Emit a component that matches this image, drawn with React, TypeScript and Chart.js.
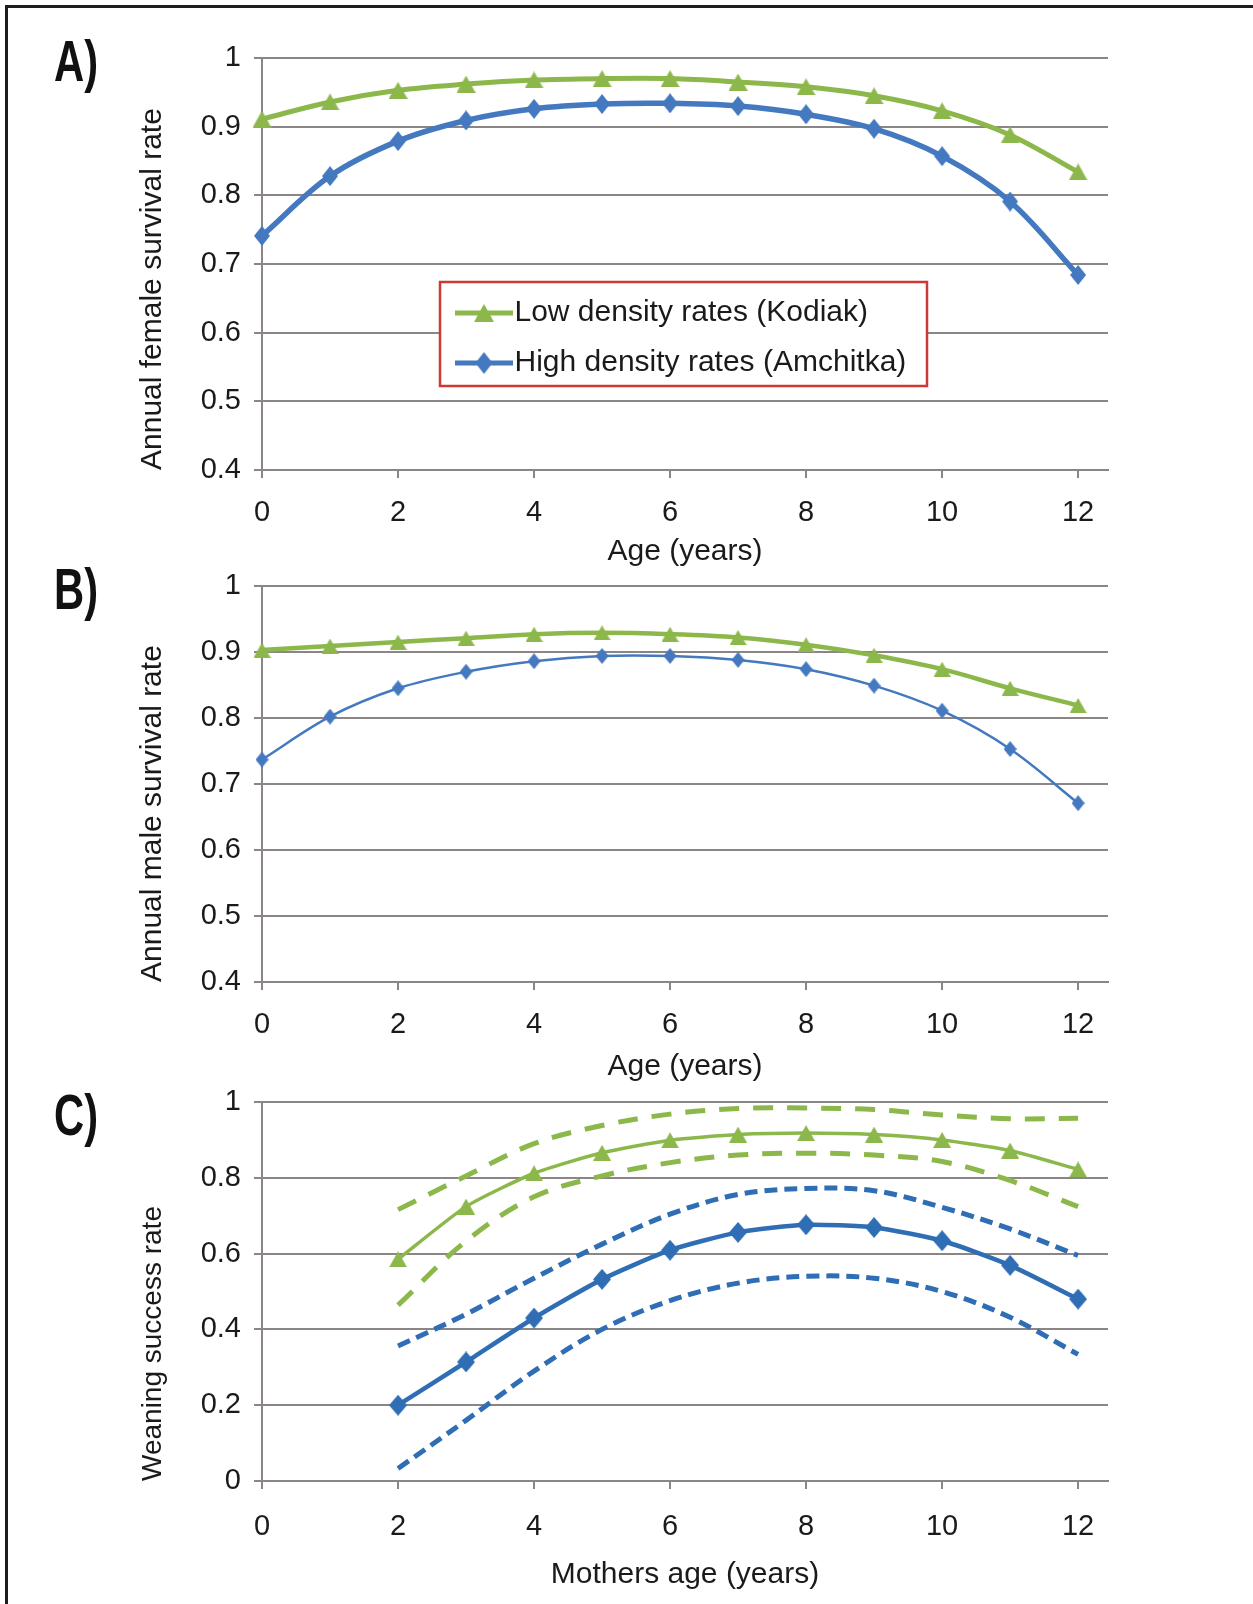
import React, { useEffect, useRef } from 'react';
import { Chart, registerables } from 'chart.js';

Chart.register(...registerables);

// ---------------- Data ----------------
const ages = [0, 1, 2, 3, 4, 5, 6, 7, 8, 9, 10, 11, 12];

// Panel A – annual female survival rate
const femaleLowDensity = [0.911, 0.936, 0.953, 0.962, 0.968, 0.970, 0.970, 0.965, 0.958, 0.945, 0.923, 0.888, 0.834];
const femaleHighDensity = [0.741, 0.828, 0.879, 0.909, 0.926, 0.933, 0.934, 0.930, 0.918, 0.897, 0.857, 0.791, 0.684];

// Panel B – annual male survival rate
const maleLowDensity = [0.903, 0.909, 0.915, 0.921, 0.927, 0.929, 0.927, 0.922, 0.911, 0.895, 0.874, 0.845, 0.819];
const maleHighDensity = [0.737, 0.802, 0.845, 0.870, 0.886, 0.894, 0.894, 0.888, 0.874, 0.849, 0.811, 0.753, 0.671];

// Panel C – weaning success rate by mother's age
const motherAges = [2, 3, 4, 5, 6, 7, 8, 9, 10, 11, 12];
const weanLowDensity = [0.585, 0.724, 0.812, 0.866, 0.899, 0.914, 0.918, 0.914, 0.900, 0.872, 0.822];
const weanLowUpper = [0.716, 0.805, 0.890, 0.938, 0.968, 0.983, 0.984, 0.980, 0.966, 0.956, 0.957];
const weanLowLower = [0.464, 0.633, 0.750, 0.805, 0.840, 0.860, 0.865, 0.860, 0.843, 0.793, 0.724];
const weanHighDensity = [0.200, 0.314, 0.430, 0.532, 0.609, 0.656, 0.676, 0.669, 0.634, 0.569, 0.480];
const weanHighUpper = [0.356, 0.440, 0.535, 0.625, 0.704, 0.756, 0.772, 0.766, 0.722, 0.665, 0.595];
const weanHighLower = [0.033, 0.160, 0.290, 0.400, 0.476, 0.522, 0.540, 0.535, 0.500, 0.432, 0.334];

// Tick labels
const xTickValues = [0, 2, 4, 6, 8, 10, 12];
const survivalTicks = [0.4, 0.5, 0.6, 0.7, 0.8, 0.9, 1];
const weaningTicks = [0, 0.2, 0.4, 0.6, 0.8, 1];

const legendLabels = ['Low density rates (Kodiak)', 'High density rates (Amchitka)'];

// ---------------- Styling ----------------
const GREEN = '#8cb84b';
const BLUE = '#4479c0';
const BLUE_C = '#2f6db5';
const GRID = '#8b8585';
const TEXT = '#1a1a1a';
const FONT = "'Liberation Sans', Arial, Helvetica, sans-serif";
const X_MAX = 12.44;
const PLOT_LEFT = 262;
const PLOT_RIGHT = 1108;
const W = 1253;

function markerCanvas(color: string, shape: string, w: number, h: number): HTMLCanvasElement {
  const c = document.createElement('canvas');
  c.width = w;
  c.height = h;
  const g = c.getContext('2d')!;
  g.fillStyle = color;
  g.beginPath();
  if (shape === 'triangle') {
    g.moveTo(w / 2, 0);
    g.lineTo(w, h);
    g.lineTo(0, h);
  } else {
    g.moveTo(w / 2, 0);
    g.lineTo(w, h / 2);
    g.lineTo(w / 2, h);
    g.lineTo(0, h / 2);
  }
  g.closePath();
  g.fill();
  return c;
}

function pts(xs: number[], ys: number[]) {
  return xs.map((x, i) => ({ x, y: ys[i] }));
}

function solid(label: string, xs: number[], ys: number[], color: string, width: number, marker: any, tension = 0.35) {
  return {
    label,
    data: pts(xs, ys),
    borderColor: color,
    backgroundColor: color,
    borderWidth: width,
    pointStyle: marker,
    pointRadius: 8,
    pointHoverRadius: 8,
    pointBackgroundColor: color,
    pointBorderColor: color,
    pointBorderWidth: 0,
    tension,
    clip: false,
    fill: false,
  };
}

function dashed(label: string, xs: number[], ys: number[], color: string, width: number, dash: number[]) {
  return {
    label,
    data: pts(xs, ys),
    borderColor: color,
    backgroundColor: color,
    borderWidth: width,
    borderDash: dash,
    borderCapStyle: 'butt',
    pointRadius: 0,
    pointHoverRadius: 0,
    tension: 0.35,
    clip: false,
    fill: false,
  };
}

type PanelSpec = {
  key: string;
  top: number;
  height: number;
  areaTop: number;
  areaBottom: number;
  yMin: number;
  yMax: number;
  yTicks: number[];
  yTitle: string;
  yTitleSize: number;
  xTitle: string;
  xTickPad: number;
  legend: boolean;
  datasets: () => any[];
};

const panels: PanelSpec[] = [
  {
    key: 'A',
    top: 0,
    height: 574,
    areaTop: 58,
    areaBottom: 470,
    yMin: 0.4,
    yMax: 1,
    yTicks: survivalTicks,
    yTitle: 'Annual female survival rate',
    yTitleSize: 30,
    xTitle: 'Age (years)',
    xTickPad: 18,
    legend: true,
    datasets: () => [
      solid(legendLabels[0], ages, femaleLowDensity, GREEN, 5, markerCanvas(GREEN, 'triangle', 19, 17)),
      solid(legendLabels[1], ages, femaleHighDensity, BLUE, 5.5, markerCanvas(BLUE, 'diamond', 16, 20)),
    ],
  },
  {
    key: 'B',
    top: 540,
    height: 549,
    areaTop: 46,
    areaBottom: 442,
    yMin: 0.4,
    yMax: 1,
    yTicks: survivalTicks,
    yTitle: 'Annual male survival rate',
    yTitleSize: 30,
    xTitle: 'Age (years)',
    xTickPad: 18,
    legend: false,
    datasets: () => [
      solid(legendLabels[0], ages, maleLowDensity, GREEN, 4.5, markerCanvas(GREEN, 'triangle', 17, 15)),
      solid(legendLabels[1], ages, maleHighDensity, BLUE, 2.5, markerCanvas(BLUE, 'diamond', 13, 16)),
    ],
  },
  {
    key: 'C',
    top: 1060,
    height: 537,
    areaTop: 42,
    areaBottom: 421,
    yMin: 0,
    yMax: 1,
    yTicks: weaningTicks,
    yTitle: 'Weaning success rate',
    yTitleSize: 28,
    xTitle: 'Mothers age (years)',
    xTickPad: 21,
    legend: false,
    datasets: () => [
      dashed('Low density upper', motherAges, weanLowUpper, GREEN, 5, [20, 14]),
      dashed('Low density lower', motherAges, weanLowLower, GREEN, 5, [20, 14]),
      dashed('High density upper', motherAges, weanHighUpper, BLUE_C, 5, [13, 7]),
      dashed('High density lower', motherAges, weanHighLower, BLUE_C, 5, [13, 7]),
      solid('Low density rates (Kodiak)', motherAges, weanLowDensity, GREEN, 3.5, markerCanvas(GREEN, 'triangle', 18, 16), 0.2),
      solid('High density rates (Amchitka)', motherAges, weanHighDensity, BLUE_C, 4.5, markerCanvas(BLUE_C, 'diamond', 18, 21), 0.2),
    ],
  },
];

function makeSymbol(color: string, shape: string): HTMLCanvasElement {
  const c = document.createElement('canvas');
  c.width = 58;
  c.height = 24;
  const g = c.getContext('2d')!;
  g.strokeStyle = color;
  g.lineWidth = 5;
  g.beginPath();
  g.moveTo(0, 12);
  g.lineTo(58, 12);
  g.stroke();
  const m = shape === 'triangle' ? markerCanvas(color, 'triangle', 20, 18) : markerCanvas(color, 'diamond', 17, 22);
  g.drawImage(m, 29 - m.width / 2, 12 - m.height / 2);
  return c;
}

const LEGEND_BOX = { x: 440, y: 282, w: 487, h: 104 };

const legendBoxPlugin = {
  id: 'legendBoxPlugin',
  afterLayout(chart: any) {
    const lg = chart.legend;
    if (!lg) return;
    if (!lg.columnSizes || !lg.columnSizes.length) {
      lg.update(600, 300, { left: 0, top: 0, right: 0, bottom: 0 });
    }
    lg.left = 448.5;
    lg.top = 278;
    lg.right = 960;
    lg.bottom = 560;
    lg.width = lg.right - lg.left;
    lg.height = lg.bottom - lg.top;
  },
  afterDraw(chart: any) {
    const lg = chart.legend;
    if (!lg) return;
    const ctx = chart.ctx;
    ctx.save();
    ctx.fillStyle = '#ffffff';
    ctx.fillRect(LEGEND_BOX.x, LEGEND_BOX.y, LEGEND_BOX.w, LEGEND_BOX.h);
    ctx.strokeStyle = '#cc3a33';
    ctx.lineWidth = 2.5;
    ctx.strokeRect(LEGEND_BOX.x, LEGEND_BOX.y, LEGEND_BOX.w, LEGEND_BOX.h);
    ctx.restore();
    lg.draw();
  },
};

function fmt(v: any) {
  const n = Number(v);
  return String(Math.round(n * 10) / 10);
}

function buildConfig(spec: PanelSpec): any {
  const symbols = [makeSymbol(GREEN, 'triangle'), makeSymbol(BLUE, 'diamond')];
  return {
    type: 'line',
    data: { datasets: spec.datasets() },
    options: {
      animation: false,
      responsive: false,
      maintainAspectRatio: false,
      events: [],
      layout: { padding: { left: 0, right: W - PLOT_RIGHT, top: spec.areaTop, bottom: 0 } },
      plugins: {
        tooltip: { enabled: false },
        title: { display: false },
        legend: spec.legend
          ? {
              display: true,
              position: 'chartArea',
              align: 'start',
              labels: {
                usePointStyle: true,
                pointStyleWidth: 31,
                padding: 20,
                color: TEXT,
                font: { size: 30, family: FONT },
                generateLabels: (chart: any) => {
                  const base = (Chart.defaults as any).plugins.legend.labels.generateLabels(chart);
                  return base.map((item: any, i: number) => ({ ...item, pointStyle: symbols[i], lineWidth: 0 }));
                },
              },
            }
          : { display: false },
      },
      scales: {
        x: {
          type: 'linear',
          min: 0,
          max: X_MAX,
          afterBuildTicks: (s: any) => {
            s.ticks = xTickValues.map((v) => ({ value: v }));
          },
          afterFit: (s: any) => {
            s.height = spec.height - spec.areaBottom;
          },
          grid: { drawOnChartArea: false, drawTicks: true, tickLength: 8, color: GRID, lineWidth: 2 },
          border: { display: true, color: GRID, width: 2 },
          ticks: {
            autoSkip: false,
            maxRotation: 0,
            minRotation: 0,
            padding: spec.xTickPad,
            color: TEXT,
            font: { size: 29, family: FONT },
            callback: (v: any) => fmt(v),
          },
          title: {
            display: true,
            text: spec.xTitle,
            color: TEXT,
            font: { size: 30, family: FONT },
            padding: { top: 0, bottom: 4 },
          },
        },
        y: {
          type: 'linear',
          min: spec.yMin,
          max: spec.yMax,
          afterBuildTicks: (s: any) => {
            s.ticks = spec.yTicks.map((v) => ({ value: v }));
          },
          afterFit: (s: any) => {
            s.width = PLOT_LEFT;
          },
          grid: { drawOnChartArea: true, drawTicks: true, tickLength: 8, color: GRID, lineWidth: 2 },
          border: { display: true, color: GRID, width: 2 },
          ticks: {
            autoSkip: false,
            padding: 13,
            color: TEXT,
            font: { size: 29, family: FONT },
            callback: (v: any) => fmt(v),
          },
          title: {
            display: true,
            text: spec.yTitle,
            align: 'start',
            color: TEXT,
            font: { size: spec.yTitleSize, family: FONT },
            padding: { top: 153 - spec.yTitleSize * 0.6, bottom: 0 },
          },
        },
      },
    },
    plugins: spec.legend ? [legendBoxPlugin] : [],
  };
}

function Panel({ spec }: { spec: PanelSpec }) {
  const ref = useRef<HTMLCanvasElement>(null);
  useEffect(() => {
    if (!ref.current) return;
    const chart = new Chart(ref.current, buildConfig(spec));
    return () => chart.destroy();
  }, [spec]);
  return (
    <canvas
      ref={ref}
      width={W}
      height={spec.height}
      style={{ position: 'absolute', left: 0, top: spec.top, width: W, height: spec.height, display: 'block' }}
    />
  );
}

const panelLabelStyle: React.CSSProperties = {
  position: 'absolute',
  left: 54,
  fontFamily: "'Liberation Sans', Arial, sans-serif",
  fontWeight: 700,
  fontSize: 58,
  lineHeight: 1,
  color: '#111',
  transform: 'scaleX(0.72)',
  transformOrigin: 'left top',
  whiteSpace: 'nowrap',
};

export default function App() {
  return (
    <div
      style={{
        position: 'absolute',
        left: 0,
        top: 0,
        width: W,
        height: 1604,
        background: '#ffffff',
        overflow: 'hidden',
      }}
    >
      <div
        style={{
          position: 'absolute',
          left: 5,
          top: 5,
          width: 1400,
          height: 1800,
          border: '3px solid #1e1e1e',
        }}
      />
      {panels.map((p) => (
        <Panel key={p.key} spec={p} />
      ))}
      <div style={{ ...panelLabelStyle, top: 32 }}>A)</div>
      <div style={{ ...panelLabelStyle, top: 560 }}>B)</div>
      <div style={{ ...panelLabelStyle, top: 1086 }}>C)</div>
    </div>
  );
}
